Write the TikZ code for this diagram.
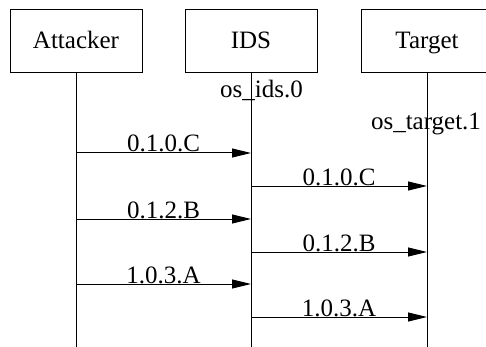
\documentclass[tikz,border=0pt]{standalone}
\usepackage{fontspec}
\setmainfont{Liberation Serif}
\usetikzlibrary{arrows.meta}

\begin{document}
\begin{tikzpicture}[x=0.5pt, y=-0.5pt, line width=0.5pt,
    font=\fontsize{12.5}{15}\selectfont,
    actor/.style={
        draw, minimum width=66pt, minimum height=31.5pt, inner sep=0pt,
        text height=0.72em, text depth=0pt
    },
    msg/.style={-{Triangle[length=9.5pt, width=4.5pt]}},
    mlab/.style={anchor=base, inner sep=0pt, yshift=0.5pt},
    plab/.style={anchor=base, inner sep=0pt},
]
    \useasboundingbox (0,0) rectangle (486,347);

    % participants
    \node[actor] (att) at (76,41.5)  {Attacker};
    \node[actor] (ids) at (251,41.5) {IDS};
    \node[actor] (tgt) at (427,41.5) {Target};

    % lifelines
    \coordinate (attEnd) at (76,347);
    \coordinate (idsEnd) at (251,347);
    \coordinate (tgtEnd) at (427,347);
    \draw (att.south) -- (attEnd);
    \draw (ids.south) -- (idsEnd);
    \draw (tgt.south) -- (tgtEnd);

    \node[plab] (idsPort) at (261.5,97.7) {os\_ids.0};
    \node[plab] (tgtPort) at (426,130)    {os\_target.1};

    % messages
    \foreach \y/\from/\to/\txt in {153/att/ids/0.1.0.C, 186/ids/tgt/0.1.0.C,
                                   219/att/ids/0.1.2.B, 252/ids/tgt/0.1.2.B,
                                   284/att/ids/1.0.3.A, 317/ids/tgt/1.0.3.A}
        \draw[msg] (\from.south |- 0,\y) -- (\to.south |- 0,\y)
            node[mlab, midway] {\txt};

\end{tikzpicture}
\end{document}
